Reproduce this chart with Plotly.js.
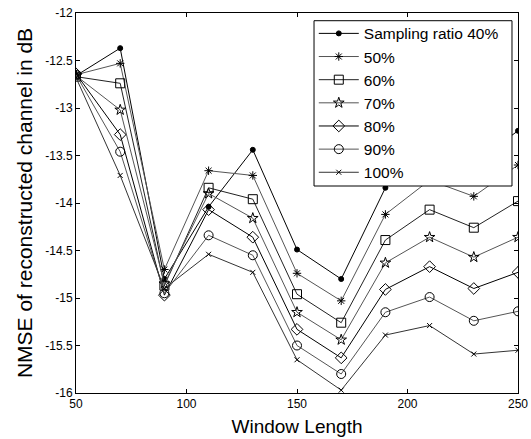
<!DOCTYPE html>
<html><head><meta charset="utf-8">
<script src="https://cdn.plot.ly/plotly-3.0.1.min.js"></script>
<style>body{margin:0;padding:0;background:#fff}#plot{width:531px;height:439px}</style>
</head><body><div id="plot"></div>
<script>
const windowLength = [50, 70, 90, 110, 130, 150, 170, 190, 210, 230, 250];
const seriesNames = ['Sampling ratio 40%', '50%', '60%', '70%', '80%', '90%', '100%'];
const nmse40  = [-12.66, -12.37, -14.80, -14.04, -13.44, -14.49, -14.80, -13.84, -13.45, -13.58, -13.24];
const nmse50  = [-12.65, -12.53, -14.70, -13.66, -13.71, -14.74, -15.03, -14.12, -13.76, -13.93, -13.60];
const nmse60  = [-12.67, -12.74, -14.87, -13.84, -13.96, -14.96, -15.26, -14.39, -14.07, -14.26, -13.98];
const nmse70  = [-12.66, -13.02, -14.85, -13.90, -14.16, -15.15, -15.44, -14.63, -14.36, -14.57, -14.36];
const nmse80  = [-12.64, -13.28, -14.97, -14.07, -14.36, -15.33, -15.63, -14.91, -14.67, -14.90, -14.73];
const nmse90  = [-12.65, -13.46, -14.95, -14.34, -14.55, -15.50, -15.80, -15.15, -14.99, -15.24, -15.14];
const nmse100 = [-12.68, -13.71, -14.90, -14.54, -14.73, -15.65, -15.97, -15.39, -15.29, -15.59, -15.55];
const xTicks = [50, 100, 150, 200, 250];
const yTicks = [-16, -15.5, -15, -14.5, -14, -13.5, -13, -12.5, -12];

const allSeries = [nmse40, nmse50, nmse60, nmse70, nmse80, nmse90, nmse100];
const symbols = ['circle', 'asterisk-open', 'square-open', 'star-open', 'diamond-open', 'circle-open', 'x-thin-open'];
const sizes = [5, 7, 9, 8, 9, 9, 5];
const lineColors = ['#000000', '#555555', '#222222', '#555555', '#000000', '#555555', '#333333'];

const traces = allSeries.map((ys, i) => ({
  x: windowLength, y: ys, name: seriesNames[i], type: 'scatter', mode: 'lines+markers',
  line: {color: lineColors[i], width: 1},
  marker: {symbol: symbols[i], size: sizes[i], color: '#000000', line: {color: '#000000', width: 1}}
}));

const axisCommon = {
  showgrid: false, zeroline: false, showline: true, linecolor: '#000', linewidth: 1,
  mirror: 'ticks', ticks: 'inside', ticklen: 4, tickcolor: '#000',
  tickfont: {family: 'Arial, Liberation Sans, sans-serif', size: 12, color: '#000'}
};

const layout = {
  width: 531, height: 439,
  margin: {l: 76, r: 13, t: 13, b: 46},
  paper_bgcolor: '#fff', plot_bgcolor: '#fff',
  font: {family: 'Arial, Liberation Sans, sans-serif', color: '#000'},
  xaxis: Object.assign({}, axisCommon, {
    range: [50, 250], tickvals: xTicks, ticktext: xTicks.map(String),
    title: {text: 'Window Length', font: {size: 19}, standoff: 9}
  }),
  yaxis: Object.assign({}, axisCommon, {
    range: [-16, -12], tickvals: yTicks, ticktext: yTicks.map(String),
    title: {text: 'NMSE of reconstructed channel in dB', font: {size: 21}, standoff: 6}
  }),
  shapes: [{
    type: 'rect', xref: 'paper', yref: 'paper', layer: 'above',
    x0: 0.5385, x1: 0.9864, y0: 0.5447, y1: 0.9797,
    fillcolor: '#fff', line: {color: '#000', width: 1}
  }],
  legend: {
    x: 0.538, y: 0.99, xanchor: 'left', yanchor: 'top',
    bgcolor: 'rgba(0,0,0,0)', borderwidth: 0,
    font: {size: 15.5, color: '#000'}, itemwidth: 40, tracegroupgap: 0
  },
  showlegend: true
};

Plotly.newPlot('plot', traces, layout, {displayModeBar: false, staticPlot: true});
</script></body></html>
